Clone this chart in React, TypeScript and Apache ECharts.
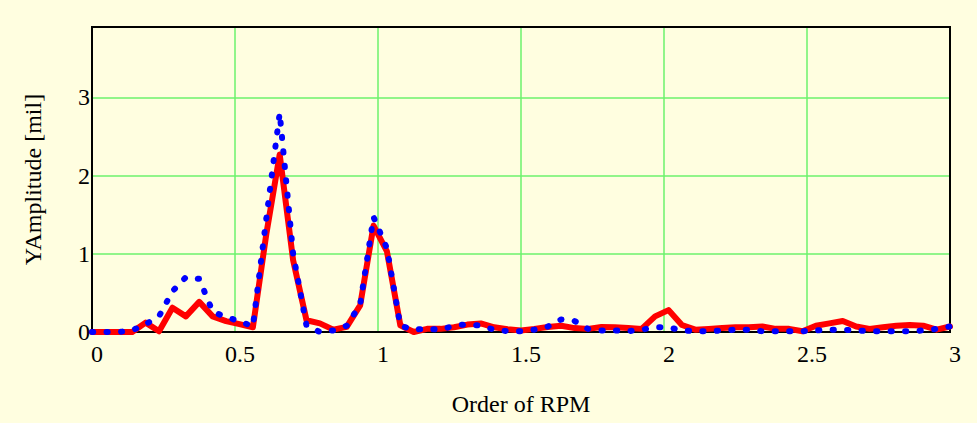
import React, { useEffect, useRef } from "react";
import * as echarts from "echarts";

// Order of RPM sampled at step 3/64 (65 points, 0..3)
const orderStep = 3 / 64;
const orderCount = 65;

// Red solid series (YAmplitude, mil)
const redValues = [
  0, 0, 0, 0, 0.12, 0.01, 0.31, 0.2, 0.385, 0.2,
  0.14, 0.1, 0.06, 1.25, 2.27, 0.92, 0.15, 0.11, 0.03, 0.065,
  0.34, 1.36, 1.03, 0.085, 0.0, 0.04, 0.04, 0.06, 0.095, 0.11,
  0.06, 0.035, 0.02, 0.04, 0.065, 0.08, 0.05, 0.04, 0.065, 0.06,
  0.05, 0.04, 0.2, 0.28, 0.09, 0.03, 0.04, 0.05, 0.06, 0.06,
  0.07, 0.04, 0.04, 0.01, 0.08, 0.11, 0.14, 0.07, 0.04, 0.06,
  0.08, 0.09, 0.08, 0.03, 0.07,
];

// Blue dotted series (YAmplitude, mil)
const blueValues = [
  0, 0, 0, 0.02, 0.1, 0.2, 0.52, 0.7, 0.68, 0.26,
  0.19, 0.14, 0.07, 1.45, 2.8, 1.0, 0.08, 0.0, 0.02, 0.08,
  0.35, 1.47, 1.07, 0.08, 0.03, 0.04, 0.03, 0.08, 0.1, 0.08,
  0.03, 0.01, 0.01, 0.03, 0.07, 0.16, 0.14, 0.04, 0.02, 0.02,
  0.01, 0.03, 0.06, 0.06, 0.02, 0.01, 0.01, 0.02, 0.03, 0.03,
  0.01, 0.01, 0.01, 0.01, 0.02, 0.03, 0.03, 0.02, 0.01, 0.01,
  0.01, 0.01, 0.02, 0.04, 0.07,
];

const orders = Array.from({ length: orderCount }, (_, i) => i * orderStep);

const xTitle = "Order of RPM";
const yTitle = "YAmplitude [mil]";

const GRID = { left: 92, top: 27, right: 27, bottom: 91 };
const W = 977;
const H = 423;
const FONT = "'Liberation Serif', 'Times New Roman', serif";
const BG = "#FFFEE0";
const GREEN = "#6CF26C";

export default function App() {
  const ref = useRef<HTMLDivElement>(null);

  useEffect(() => {
    if (!ref.current) return;
    const chart = echarts.init(ref.current, undefined, { renderer: "svg" });
    const redData = orders.map((x, i) => [x, redValues[i]]);
    const blueData = orders.map((x, i) => [x, blueValues[i]]);

    chart.setOption({
      animation: false,
      backgroundColor: BG,
      grid: {
        left: GRID.left,
        top: GRID.top,
        right: GRID.right,
        bottom: GRID.bottom,
        show: false,
      },
      xAxis: {
        type: "value",
        min: 0,
        max: 3,
        interval: 0.5,
        name: xTitle,
        nameLocation: "middle",
        nameGap: 60,
        nameTextStyle: { fontFamily: FONT, fontSize: 24, color: "#000" },
        axisLine: { show: false },
        axisTick: { show: false },
        axisLabel: {
          fontFamily: FONT,
          fontSize: 24,
          color: "#000",
          margin: 10,
          padding: [0, 0, 0, 10],
          formatter: (v: number) => String(v),
        },
        splitLine: { show: true, lineStyle: { color: GREEN, width: 1.5 } },
      },
      yAxis: {
        type: "value",
        min: 0,
        max: 3.9,
        interval: 1,
        name: yTitle,
        nameLocation: "middle",
        nameGap: 47,
        nameTextStyle: { fontFamily: FONT, fontSize: 24, color: "#000" },
        axisLine: { show: false },
        axisTick: { show: false },
        axisLabel: {
          fontFamily: FONT,
          fontSize: 24,
          color: "#000",
          margin: 2,
          padding: [10, 0, 0, 0],
          showMaxLabel: false,
          formatter: (v: number) => (Number.isInteger(v) ? String(v) : ""),
        },
        splitLine: { show: true, lineStyle: { color: GREEN, width: 1.5 } },
      },
      graphic: [
        {
          type: "rect",
          z: 1,
          silent: true,
          shape: {
            x: GRID.left,
            y: GRID.top,
            width: W - GRID.left - GRID.right,
            height: H - GRID.top - GRID.bottom,
          },
          style: { fill: "none", stroke: "#000", lineWidth: 2 },
        },
      ],
      series: [
        {
          type: "line",
          data: redData,
          showSymbol: false,
          z: 3,
          lineStyle: { color: "#FF0000", width: 6, join: "round", cap: "round" },
          itemStyle: { color: "#FF0000" },
        },
        {
          type: "line",
          data: blueData,
          showSymbol: false,
          z: 4,
          lineStyle: {
            color: "#0000FF",
            width: 6,
            type: [1.2, 13.3],
            cap: "round",
            join: "round",
          },
          itemStyle: { color: "#0000FF" },
        },
      ],
    });
    return () => chart.dispose();
  }, []);

  return (
    <div
      ref={ref}
      style={{ position: "fixed", left: 0, top: 0, width: W, height: H, background: BG }}
    />
  );
}
